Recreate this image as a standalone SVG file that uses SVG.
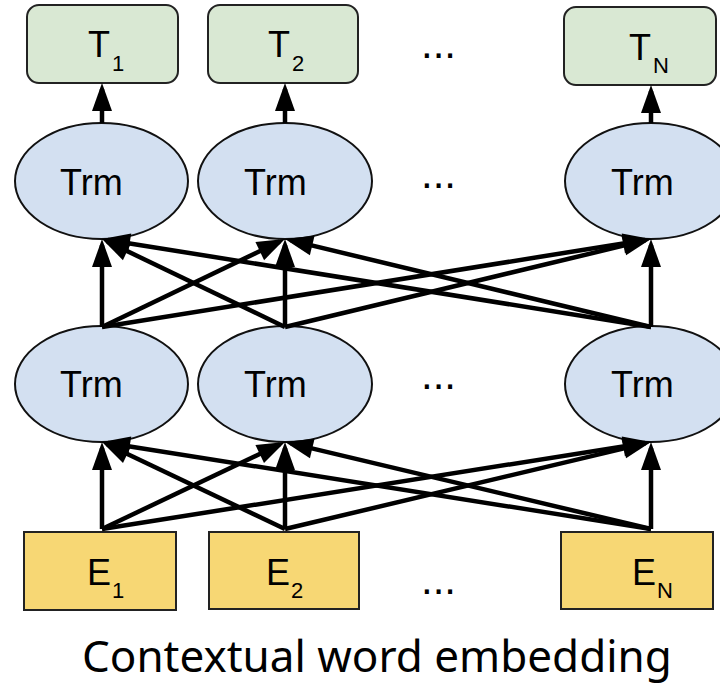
<svg xmlns="http://www.w3.org/2000/svg" width="720" height="684" viewBox="0 0 720 684">
  <style>
    .out { fill: #d9e8d3; stroke: #222; stroke-width: 2; }
    .trm { fill: #d3e0f1; stroke: #111; stroke-width: 2; }
    .emb { fill: #f7d774; stroke: #222; stroke-width: 2; }
    .lbl { font-family: "Liberation Sans", Arial, sans-serif; fill: #000; }
    .big { font-size: 36px; }
    .sub { font-size: 22px; }
    .trmtxt { font-size: 36px; }
    .dots { font-family: "Liberation Sans", Arial, sans-serif; font-size: 42px; fill: #000; }
    .cap { font-family: "Noto Sans", "Open Sans", sans-serif; font-size: 44px; fill: #000; }
    .conn line { stroke: #000; stroke-width: 4.5; marker-end: url(#arrow); }
  </style>
  <defs>
    <marker id="arrow" markerUnits="userSpaceOnUse" markerWidth="28" markerHeight="20" viewBox="0 0 28 20" refX="22" refY="10" orient="auto" overflow="visible">
      <path d="M0,0 L28,10 L0,20 Z" fill="#000"/>
    </marker>
  </defs>

  <rect width="720" height="684" fill="#fff"/>

  <!-- output tokens -->
  <g id="T1">
    <rect class="out" x="27" y="5" width="151" height="78" rx="12"/>
    <text class="lbl big" x="88" y="57">T</text><text class="lbl sub" x="112" y="71">1</text>
  </g>
  <g id="T2">
    <rect class="out" x="208" y="5" width="150" height="78" rx="12"/>
    <text class="lbl big" x="268" y="57">T</text><text class="lbl sub" x="292" y="71">2</text>
  </g>
  <g id="TN">
    <rect class="out" x="564" y="7" width="152" height="78" rx="12"/>
    <text class="lbl big" x="629" y="60">T</text><text class="lbl sub" x="653" y="73">N</text>
  </g>

  <!-- upper transformer layer -->
  <g id="trm-top-1">
    <ellipse class="trm" cx="101.5" cy="181" rx="86.5" ry="58"/>
    <text class="lbl trmtxt" x="60" y="195">Trm</text>
  </g>
  <g id="trm-top-2">
    <ellipse class="trm" cx="285" cy="181" rx="87" ry="58"/>
    <text class="lbl trmtxt" x="244" y="195">Trm</text>
  </g>
  <g id="trm-top-N">
    <ellipse class="trm" cx="651" cy="181" rx="86" ry="58"/>
    <text class="lbl trmtxt" x="611" y="195">Trm</text>
  </g>

  <!-- lower transformer layer -->
  <g id="trm-bot-1">
    <ellipse class="trm" cx="101.5" cy="384" rx="86.5" ry="58"/>
    <text class="lbl trmtxt" x="60" y="397">Trm</text>
  </g>
  <g id="trm-bot-2">
    <ellipse class="trm" cx="285" cy="384" rx="87" ry="58"/>
    <text class="lbl trmtxt" x="244" y="397">Trm</text>
  </g>
  <g id="trm-bot-N">
    <ellipse class="trm" cx="651" cy="384" rx="86" ry="58"/>
    <text class="lbl trmtxt" x="611" y="397">Trm</text>
  </g>

  <!-- input embeddings -->
  <g id="E1">
    <rect class="emb" x="24" y="532" width="152" height="78"/>
    <text class="lbl big" x="87" y="585">E</text><text class="lbl sub" x="112" y="598">1</text>
  </g>
  <g id="E2">
    <rect class="emb" x="209" y="532" width="150" height="77"/>
    <text class="lbl big" x="266" y="585">E</text><text class="lbl sub" x="291" y="598">2</text>
  </g>
  <g id="EN">
    <rect class="emb" x="561" y="532" width="152" height="77"/>
    <text class="lbl big" x="632" y="585">E</text><text class="lbl sub" x="657" y="598">N</text>
  </g>

  <!-- ellipsis between columns -->
  <g id="ellipses">
    <text class="dots" x="421" y="58">...</text>
    <text class="dots" x="421" y="188">...</text>
    <text class="dots" x="421" y="389">...</text>
    <text class="dots" x="421" y="594">...</text>
  </g>

  <!-- connectors -->
  <g id="connectors" class="conn">
    <!-- upper layer to outputs -->
    <line x1="102" y1="123" x2="102" y2="89"/>
    <line x1="285" y1="123" x2="285" y2="89"/>
    <line x1="651" y1="123" x2="651" y2="91"/>

    <!-- lower layer to upper layer -->
    <line x1="102" y1="327" x2="102" y2="245"/>
    <line x1="285" y1="327" x2="285" y2="245"/>
    <line x1="651" y1="327" x2="651" y2="245"/>
    <line x1="102" y1="327" x2="279.59" y2="241.60"/>
    <line x1="102" y1="327" x2="645.08" y2="239.95"/>
    <line x1="285" y1="327" x2="107.41" y2="241.60"/>
    <line x1="285" y1="327" x2="645.17" y2="240.40"/>
    <line x1="651" y1="327" x2="107.92" y2="239.95"/>
    <line x1="651" y1="327" x2="290.83" y2="240.40"/>

    <!-- embeddings to lower layer -->
    <line x1="102" y1="529" x2="102" y2="448"/>
    <line x1="285" y1="529" x2="285" y2="448"/>
    <line x1="651" y1="529" x2="651" y2="448"/>
    <line x1="102" y1="529" x2="279.58" y2="444.58"/>
    <line x1="102" y1="529" x2="645.07" y2="442.94"/>
    <line x1="285" y1="529" x2="107.42" y2="444.58"/>
    <line x1="285" y1="529" x2="645.16" y2="443.39"/>
    <line x1="651" y1="529" x2="107.93" y2="442.94"/>
    <line x1="651" y1="529" x2="290.84" y2="443.39"/>
  </g>

  <text id="caption" class="cap" x="82" y="672">Contextual word embedding</text>
</svg>
